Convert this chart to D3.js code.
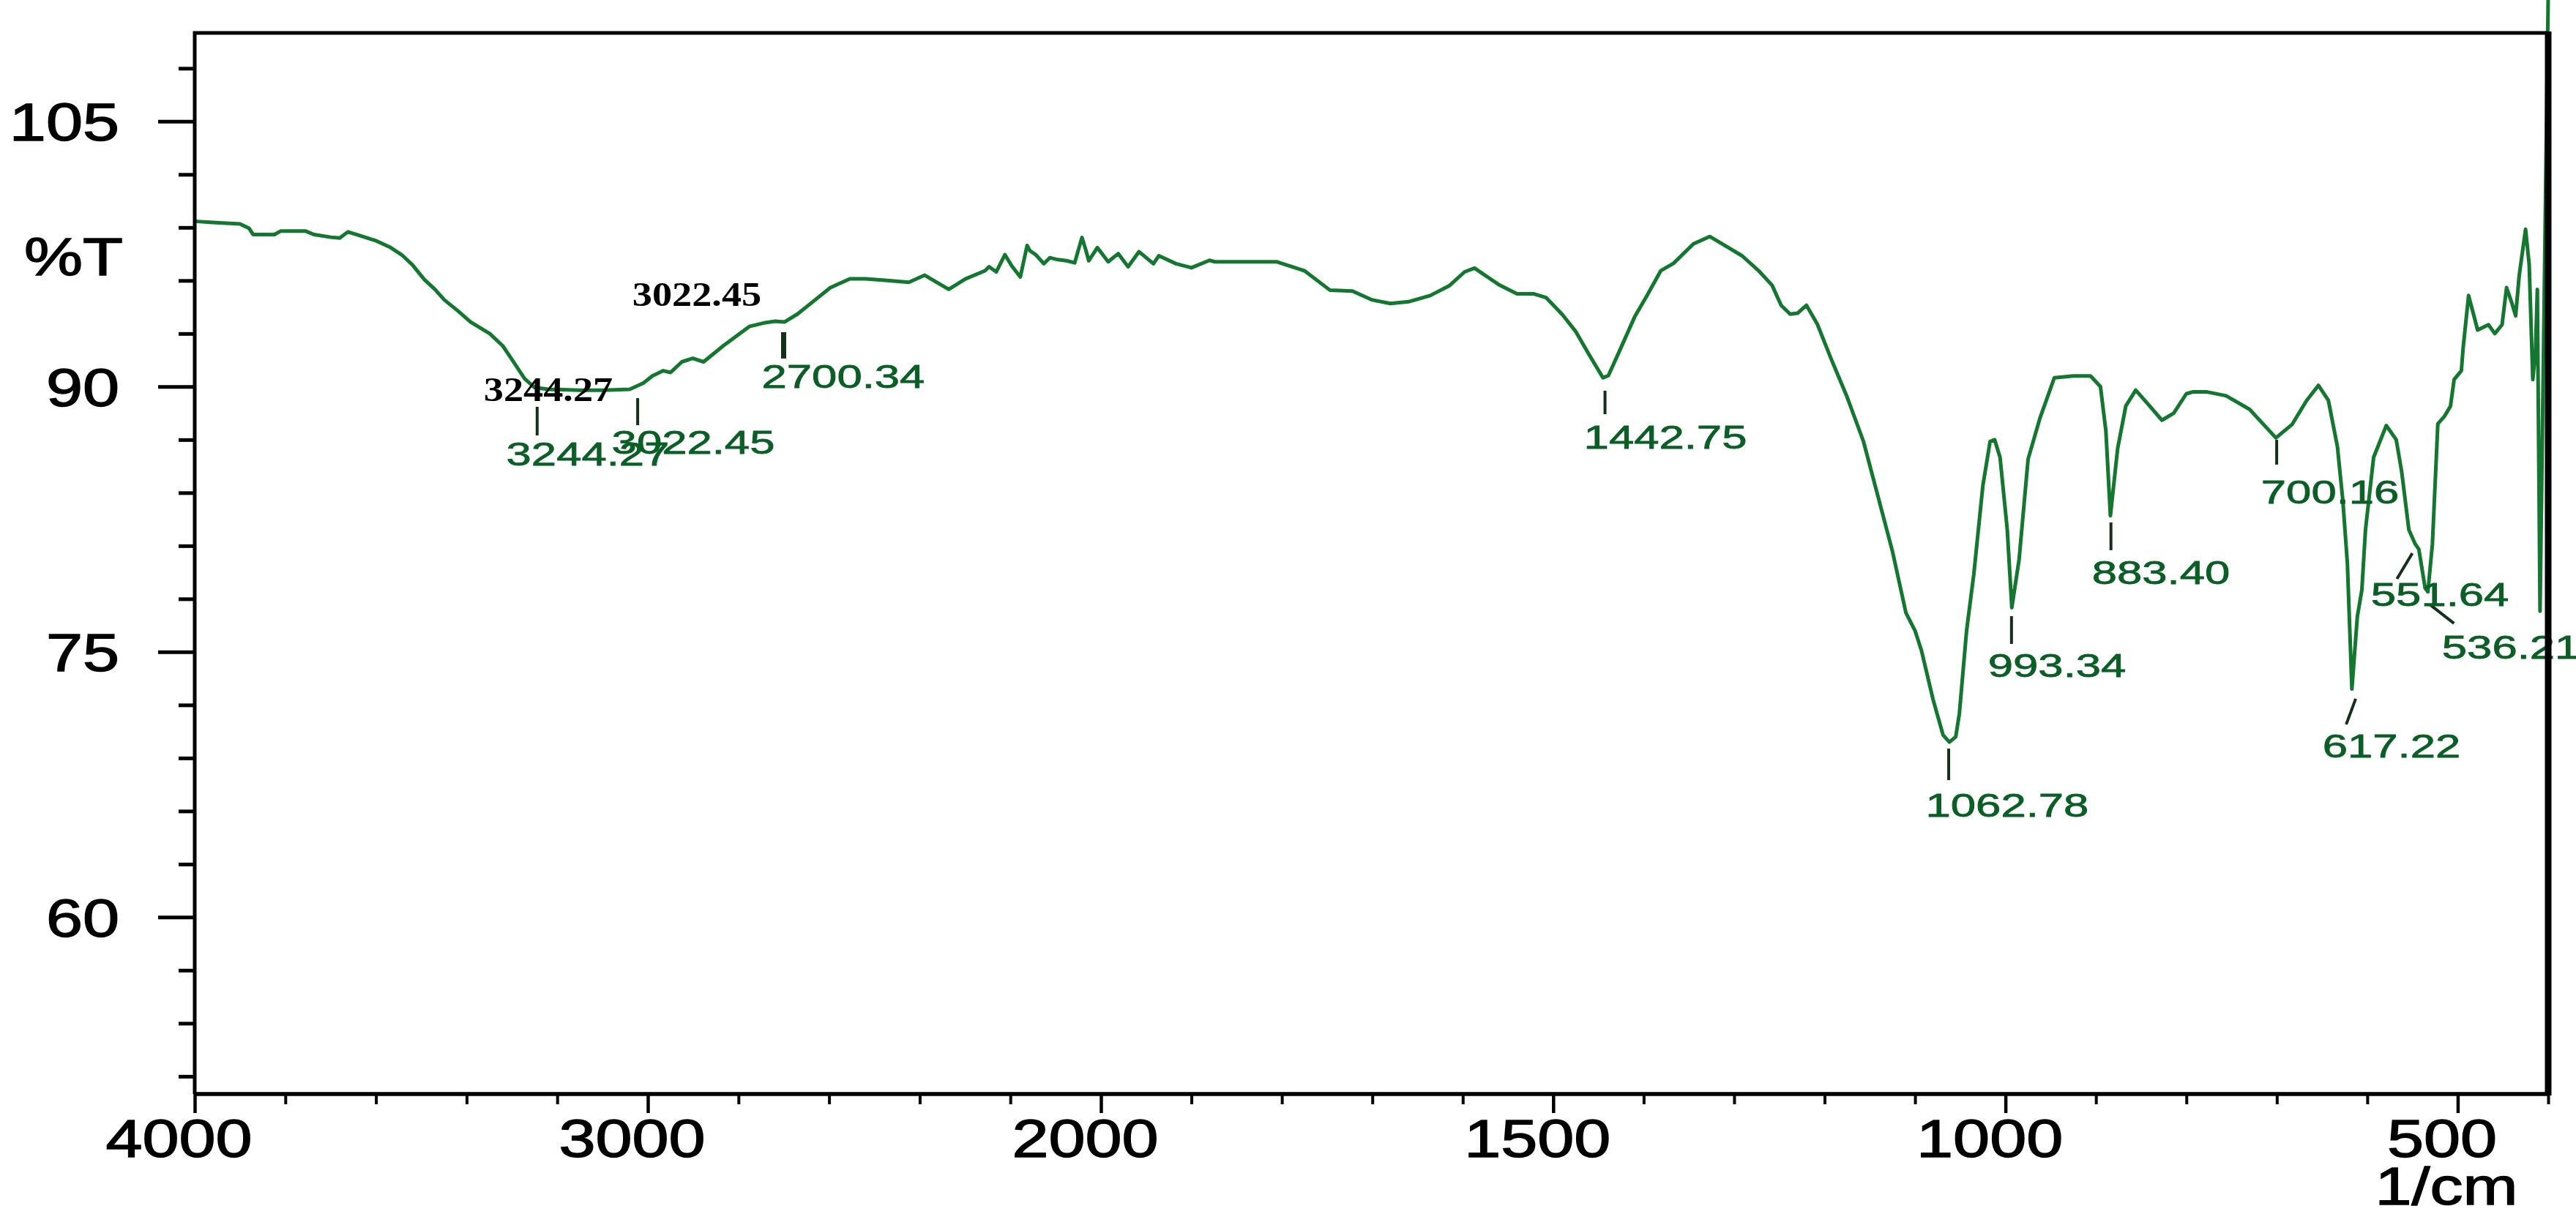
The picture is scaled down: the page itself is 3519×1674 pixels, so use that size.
<!DOCTYPE html>
<html><head><meta charset="utf-8">
<script src="https://cdn.jsdelivr.net/npm/d3@7"></script>
<style>html,body{margin:0;padding:0;background:#fff;} svg{display:block;}</style>
</head><body>
<svg id="chart" width="3519" height="1674"></svg>
<script>
// ---- data ----
const wavenumber = [4000,3960,3900,3880,3871,3824,3810,3756,3737,3700,3680,3662,3637,3600,3570,3543,3520,3493,3470,3449,3420,3391,3349,3320,3299,3272,3250,3220,3150,3100,3040,3010,2990,2966,2950,2925,2901,2877,2834,2776,2744,2719,2698,2670,2636,2597,2554,2520,2472,2424,2389,2336,2299,2256,2247,2231,2212,2197,2178,2163,2157,2144,2126,2113,2095,2076,2058,2042,2033,2027,2008,1992,1981,1970,1958,1942,1936,1917,1900,1880,1874,1806,1775,1747,1722,1700,1680,1660,1636,1615,1598,1587,1577,1559,1540,1522,1508,1490,1475,1461,1445,1439,1428,1410,1396,1381,1367,1345,1327,1309,1291,1273,1258,1248,1238,1230,1220,1208,1193,1175,1157,1141,1125,1110,1100,1093,1080,1069,1062,1055,1051,1043,1035,1025,1017,1012,1006,998,993,985,975,962,946,925,906,895,889,884,876,867,856,843,827,814,800,793,777,756,730,701,683,667,654,643,633,627,622,617,611,606,602,593,579,568,562,554,547,543,536,533,528,522,515,508,504,496,494,488,478,466,459,451,446,440,436,432,425,421,417,414,412,409,400];
const transmittance = [99.35,99.28,99.2,98.95,98.6,98.6,98.8,98.8,98.6,98.45,98.4,98.75,98.55,98.25,97.9,97.45,96.9,96.05,95.5,94.9,94.3,93.65,93.0,92.3,91.5,90.45,89.95,89.85,89.8,89.8,89.85,90.2,90.6,90.9,90.8,91.4,91.6,91.4,92.3,93.4,93.6,93.7,93.66,94.1,94.8,95.6,96.1,96.1,96.0,95.9,96.3,95.5,96.09,96.55,96.78,96.49,97.46,96.83,96.2,97.98,97.69,97.46,96.95,97.29,97.18,97.12,97.0,98.43,97.69,97.12,97.86,97.06,97.52,96.78,97.63,96.95,97.4,96.95,96.72,97.14,97.06,97.06,96.55,95.46,95.4,94.9,94.7,94.8,95.15,95.7,96.49,96.7,96.35,95.73,95.25,95.25,95.04,94.08,93.11,91.87,90.5,90.63,91.87,93.94,95.18,96.56,96.97,98.07,98.49,97.94,97.39,96.56,95.73,94.6,94.1,94.15,94.6,93.53,91.6,89.4,86.9,83.8,80.7,77.2,76.2,75.1,72.3,70.3,69.9,70.2,71.5,76.2,79.4,84.4,86.9,87.0,86.0,81.9,77.5,80.2,85.9,88.2,90.5,90.6,90.6,90.0,87.5,82.7,86.5,88.9,89.8,89.05,88.1,88.5,89.6,89.7,89.7,89.48,88.71,87.1,87.87,89.22,90.07,89.22,86.6,83.55,80.0,72.9,77.0,78.5,81.9,86.0,87.8,87.0,85.2,81.9,81.1,80.8,78.6,78.4,81.1,87.9,88.3,88.9,90.4,90.9,92.2,95.15,93.2,93.5,93.0,93.5,95.6,94.7,94.0,96.3,98.9,96.9,90.4,92.0,95.5,77.3,112];

const peakLabels = ["3244.27","3022.45","2700.34","1442.75","1062.78","993.34","883.40","700.16","617.22","551.64","536.21"];
const peakWavenumbers = [3244.27,3022.45,2700.34,1442.75,1062.78,993.34,883.40,700.16,617.22,551.64,536.21];
const handLabels = ["3244.27","3022.45"];

const xMajorTicks = [4000,3000,2000,1500,1000,500];
const xMinorTicks = [3800,3600,3400,3200,2800,2600,2400,2200,1900,1800,1700,1600,1400,1300,1200,1100,900,800,700,600,400];
const yMajorTicks = [60,75,90,105];
const yMinorTicks = [51,54,57,63,66,69,72,78,81,84,87,93,96,99,102,108];

// ---- annotation layout (in data units: wavenumber, %T) ----
const peakTickLayout = [
  {wn0:3244.27,t0:88.86,wn1:3244.27,t1:87.24,w:4},
  {wn0:3022.45,t0:89.35,wn1:3022.45,t1:87.82,w:4},
  {wn0:2700.34,t0:93.08,wn1:2700.34,t1:91.59,w:7},
  {wn0:1442.75,t0:89.77,wn1:1442.75,t1:88.44,w:4},
  {wn0:1062.78,t0:69.53,wn1:1062.78,t1:67.75,w:4},
  {wn0:993.34,t0:77.02,wn1:993.34,t1:75.45,w:4},
  {wn0:883.40,t0:82.32,wn1:883.40,t1:80.75,w:4},
  {wn0:700.16,t0:86.99,wn1:700.16,t1:85.59,w:4},
  {wn0:612.8,t0:72.35,wn1:623.3,t1:70.90,w:4},
  {wn0:550.2,t0:80.58,wn1:567.2,t1:79.13,w:4},
  {wn0:530.8,t0:77.68,wn1:504.1,t1:76.61,w:4}
];
const peakLabelPos = [
  [3132.5,85.54],[2899.8,86.21],[2568.7,89.93],[1376,86.50],[998.1,65.68],[943,73.59],
  [828.1,78.84],[641.1,83.39],[573.2,69.03],[519.7,77.60],[441.2,74.62]
];
const handLabelPos = [[3219.7,89.19],[2891.8,94.57]];

// ---- drawing ----
const L=266, R=3481, T=45, B=1495;
const x = d3.scaleLinear().domain([4000,2000,400]).range([L,1504,R]);
const y = d3.scaleLinear().domain([50,110]).range([B,T]);
const svg = d3.select("#chart");
svg.append("rect").attr("width",3519).attr("height",1674).attr("fill","#fff");

const SANS = "'Liberation Sans', Arial, Helvetica, sans-serif";
const SERIF = "'Liberation Serif', 'Times New Roman', serif";
const CURVE = "#14772f";
const LABEL = "#0b5e25";

// spectrum
svg.append("path")
  .datum(d3.zip(wavenumber, transmittance))
  .attr("d", d3.line().x(d=>x(d[0])).y(d=>y(d[1])))
  .attr("fill","none").attr("stroke",CURVE).attr("stroke-width",5)
  .attr("stroke-linejoin","round");

// peak tick marks
svg.append("g").selectAll("line").data(peakTickLayout).join("line")
  .attr("x1",d=>x(d.wn0)).attr("y1",d=>y(d.t0))
  .attr("x2",d=>x(d.wn1)).attr("y2",d=>y(d.t1))
  .attr("stroke","#143018").attr("stroke-width",d=>d.w);

// peak labels (green)
svg.append("g").selectAll("text").data(peakLabels).join("text")
  .attr("transform",(d,i)=>`translate(${x(peakLabelPos[i][0])},${y(peakLabelPos[i][1])}) scale(1.37,1)`)
  .attr("text-anchor","middle").attr("font-family",SANS).attr("font-size",45)
  .attr("fill",LABEL).attr("stroke",LABEL).attr("stroke-width",0.8).text(d=>d);

// hand-added black serif labels
svg.append("g").selectAll("text").data(handLabels).join("text")
  .attr("transform",(d,i)=>`translate(${x(handLabelPos[i][0])},${y(handLabelPos[i][1])}) scale(1.18,1)`)
  .attr("text-anchor","middle").attr("font-family",SERIF).attr("font-weight","bold")
  .attr("font-size",46).attr("fill","#000").text(d=>d);

// axes
function styleTicks(g, w){ g.select(".domain").remove(); g.selectAll("line").attr("stroke","#000").attr("stroke-width",w); }

const gxMin = svg.append("g").attr("transform",`translate(0,${B})`)
  .call(d3.axisBottom(x).tickValues(xMinorTicks).tickSize(14).tickSizeOuter(0).tickFormat(()=>""));
styleTicks(gxMin,4);
const gx = svg.append("g").attr("transform",`translate(0,${B})`)
  .call(d3.axisBottom(x).tickValues(xMajorTicks).tickSize(26).tickSizeOuter(0).tickFormat(d3.format("d")));
styleTicks(gx,4.5);
gx.selectAll("text").attr("font-family",SANS).attr("font-size",72).attr("fill","#000")
  .attr("stroke","#000").attr("stroke-width",1.4)
  .attr("y",86).attr("dy",null).attr("x",-22/1.25).attr("transform","scale(1.25,1)");

const gyMin = svg.append("g").attr("transform",`translate(${L},0)`)
  .call(d3.axisLeft(y).tickValues(yMinorTicks).tickSize(22).tickSizeOuter(0).tickFormat(()=>""));
styleTicks(gyMin,5);
const gy = svg.append("g").attr("transform",`translate(${L},0)`)
  .call(d3.axisLeft(y).tickValues(yMajorTicks).tickSize(50).tickSizeOuter(0).tickFormat(d3.format("d")));
styleTicks(gy,5);
gy.selectAll("text").attr("font-family",SANS).attr("font-size",72).attr("fill","#000")
  .attr("stroke","#000").attr("stroke-width",1.4)
  .attr("x",-103/1.25).attr("dy","0.36em").attr("transform","scale(1.25,1)");

// frame
svg.append("path").attr("d",`M${L},${B} L${L},${T} L${R},${T}`).attr("fill","none").attr("stroke","#000").attr("stroke-width",5);
svg.append("line").attr("x1",L).attr("x2",R).attr("y1",B).attr("y2",B).attr("stroke","#000").attr("stroke-width",5.5);
svg.append("line").attr("x1",R).attr("x2",R).attr("y1",T-2).attr("y2",B+2).attr("stroke","#000").attr("stroke-width",9);

// axis titles
svg.append("text").attr("transform","translate(168,376) scale(1.25,1)").attr("text-anchor","end")
  .attr("font-family",SANS).attr("font-size",72).attr("fill","#000")
  .attr("stroke","#000").attr("stroke-width",1.4).text("%T");
svg.append("text").attr("transform","translate(3342,1646) scale(1.25,1)").attr("text-anchor","middle")
  .attr("font-family",SANS).attr("font-size",72).attr("fill","#000")
  .attr("stroke","#000").attr("stroke-width",1.4).text("1/cm");
</script>
</body></html>
